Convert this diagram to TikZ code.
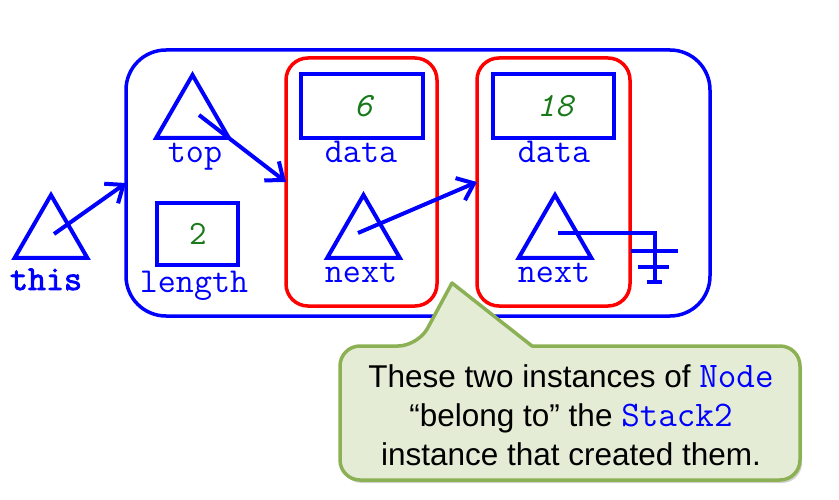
\documentclass[tikz,border=0pt]{standalone}
\usepackage{fontspec}
\setmainfont{Liberation Sans}
\newfontfamily\monof{Latin Modern Mono}
\newfontfamily\monob{Latin Modern Mono}[FakeBold=2.5]
\usetikzlibrary{shapes.geometric,arrows.meta,calc,shadows}
\definecolor{numgreen}{RGB}{25,120,25}
\definecolor{notefill}{RGB}{228,236,214}
\definecolor{noteline}{RGB}{140,176,84}
\tikzset{
  objbox/.style={draw=blue, line width=3.5pt, rounded corners=40pt, minimum width=584, minimum height=266, inner sep=0, outer sep=0},
  nodebox/.style={draw=red, line width=3.5pt, rounded corners=22pt, minimum height=248, inner sep=0, outer sep=0},
  valbox/.style={draw=blue, line width=4pt, minimum height=64, inner sep=0, outer sep=0},
  reftri/.style={draw=blue, line width=4pt, regular polygon, regular polygon sides=3, minimum size=84, inner sep=0, outer sep=0},
  lbl/.style={text=blue, anchor=base, inner sep=0, font=\monof\fontsize{35}{40}\selectfont},
  numtxt/.style={text=numgreen, anchor=base, inner sep=0, font=\monof\fontsize{34}{40}\selectfont},
  ptr/.style={draw=blue, line width=4pt, -{Straight Barb[length=15pt,width=24pt]}},
  nullline/.style={draw=blue, line width=4pt},
  notetxt/.style={anchor=base, inner sep=0, font=\fontsize{31.5}{39}\selectfont},
}
\begin{document}
\begin{tikzpicture}[x=1pt,y=-1pt]
\useasboundingbox (0,0) rectangle (839,500);
% containers
\node[objbox] (outer) at (418,183) {};
\node[nodebox, minimum width=151] (red1) at (361.5,182) {};
\node[nodebox, minimum width=153] (red2) at (553.5,182) {};
% value boxes
\node[valbox, minimum width=122] (data1) at (362,106) {};
\node[valbox, minimum width=121] (data2) at (553.5,106) {};
\node[valbox, minimum width=81, minimum height=62] (lenbox) at (197.5,234) {};
\node[numtxt] (v6) at (363,117) {\itshape 6};
\node[numtxt] (v18) at (555,117) {\itshape 18};
\node[numtxt] (v2) at (198,244) {2};
% triangles
\node[reftri] (thisT) at (51,237) {};
\node[reftri] (topT) at (192.5,117) {};
\node[reftri] (next1) at (363.5,237) {};
\node[reftri] (next2) at (555,237) {};
% labels
\node[lbl, font=\monob\fontsize{35}{40}\selectfont] (thisL) at (46,290) {this};
\node[lbl] (topL) at (195,163) {top};
\node[lbl] (lenL) at (194,292) {length};
\node[lbl] (dataL1) at (361,163) {data};
\node[lbl] (dataL2) at (554,163) {data};
\node[lbl] (nextL1) at (361,282) {next};
\node[lbl] (nextL2) at (554,282) {next};
% pointers
\draw[ptr] ($(thisT.center)+(3,-3)$) -- (outer.west);
\draw[ptr] ($(topT.center)+(6.5,-2)$) -- (red1.west);
\draw[ptr] ($(next1.center)+(-5.5,-4)$) -- (red2.west);
\coordinate (gnd) at (655,283);
\draw[nullline] ($(next2.center)+(3,-4)$) -| (gnd);
\draw[nullline] (631,251) -- (678,251);
\draw[nullline] (638,267) -- (669,267);
\draw[nullline] (647,282) -- (662,282);
% callout
\path[fill=notefill, draw=noteline, line width=3.5pt, line join=round,
      drop shadow={opacity=0.35, shadow xshift=2pt, shadow yshift=-3pt}]
  (340,413) [rounded corners=20pt] |- (418,346) [sharp corners] -- (452,283) -- (532,346)
  [rounded corners=20pt] -| (800,413) |- (340,480) -- cycle;
\node[notetxt] (note1) at (571,387) {These two instances of {\monof\fontsize{36}{39}\selectfont\color{blue}Node}};
\node[notetxt] (note2) at (571,426) {“belong to” the {\monof\fontsize{36}{39}\selectfont\color{blue}Stack2}};
\node[notetxt] (note3) at (571,465) {instance that created them.};
\end{tikzpicture}
\end{document}
